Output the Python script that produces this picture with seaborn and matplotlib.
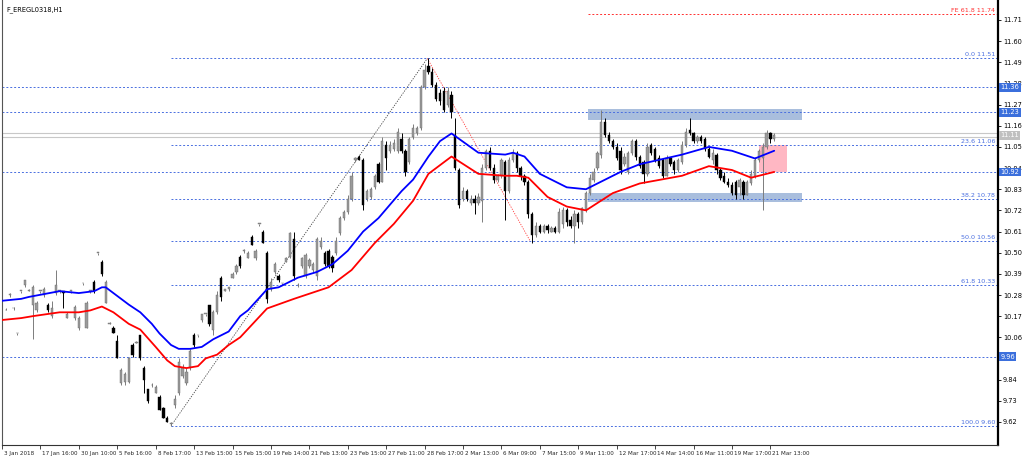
import numpy as np
import pandas as pd
import matplotlib
matplotlib.use("Agg")
import matplotlib.pyplot as plt
import matplotlib.transforms as mtransforms
from matplotlib.patches import Rectangle
import seaborn as sns

TITLE = "F_EREGL0318,H1"

bar_index = list(range(1, 202))

opens = [
    10.20, 10.28, 10.21, 10.08, 10.30, 10.33, 10.30, 10.23, 10.20, 10.30,
    10.28, 10.23, 10.17, 10.29, 10.30, 10.30, 10.16, 10.30, 10.16, 10.11,
    10.34, 10.11, 10.30, 10.35, 10.50, 10.45, 10.24, 10.13, 10.11, 10.04,
    9.82, 9.83, 9.83, 10.02, 10.03, 10.07, 9.90, 9.79, 9.81, 9.77,
    9.75, 9.69, 9.64, 9.61, 9.71, 9.77, 9.86, 9.82, 9.90, 10.07,
    10.07, 10.15, 10.18, 10.23, 10.10, 10.19, 10.37, 10.30, 10.31, 10.37,
    10.40, 10.48, 10.51, 10.47, 10.58, 10.47, 10.65, 10.61, 10.50, 10.31,
    10.40, 10.38, 10.34, 10.45, 10.48, 10.57, 10.33, 10.43, 10.38, 10.43,
    10.41, 10.38, 10.53, 10.50, 10.51, 10.48, 10.50, 10.60, 10.68, 10.71,
    10.78, 10.98, 11.00, 10.98, 10.78, 10.79, 10.84, 10.96, 10.87, 11.06,
    11.03, 11.04, 11.03, 11.09, 11.03, 10.97, 11.10, 11.12, 11.15, 11.36,
    11.47, 11.44, 11.37, 11.33, 11.34, 11.27, 11.32, 11.11, 10.93, 10.78,
    10.82, 10.76, 10.78, 10.76, 10.77, 10.94, 11.03, 10.94, 10.88, 10.90,
    10.97, 10.82, 10.98, 11.02, 10.94, 10.90, 10.87, 10.70, 10.59, 10.64,
    10.61, 10.64, 10.61, 10.63, 10.61, 10.65, 10.72, 10.67, 10.64, 10.70,
    10.66, 10.72, 10.81, 10.88, 10.94, 11.01, 11.18, 11.11, 11.08, 11.05,
    11.03, 10.96, 10.92, 11.02, 11.08, 11.00, 10.97, 10.91, 11.06, 11.04,
    10.99, 10.98, 10.90, 10.99, 10.97, 10.93, 10.97, 11.06, 11.14, 11.12,
    11.08, 11.10, 11.09, 11.04, 10.98, 11.01, 10.93, 10.90, 10.87, 10.85,
    10.87, 10.84, 10.87, 10.80, 10.86, 10.90, 10.98, 10.99, 11.05, 11.12,
    11.09,
]
highs = [
    10.21, 10.29, 10.22, 10.08, 10.30, 10.36, 10.31, 10.33, 10.25, 10.30,
    10.32, 10.24, 10.25, 10.41, 10.30, 10.30, 10.19, 10.30, 10.23, 10.17,
    10.34, 10.25, 10.30, 10.36, 10.50, 10.46, 10.36, 10.14, 10.12, 10.07,
    9.90, 9.88, 9.96, 10.03, 10.04, 10.07, 9.91, 9.79, 9.82, 9.81,
    9.76, 9.70, 9.65, 9.62, 9.76, 9.95, 9.92, 9.90, 10.00, 10.08,
    10.07, 10.18, 10.18, 10.23, 10.20, 10.30, 10.38, 10.31, 10.32, 10.40,
    10.44, 10.49, 10.52, 10.51, 10.59, 10.52, 10.65, 10.62, 10.51, 10.37,
    10.45, 10.39, 10.34, 10.48, 10.61, 10.61, 10.34, 10.48, 10.50, 10.47,
    10.45, 10.58, 10.58, 10.51, 10.52, 10.49, 10.58, 10.69, 10.72, 10.80,
    10.92, 11.00, 11.01, 10.99, 10.83, 10.84, 10.91, 10.97, 11.10, 11.08,
    11.08, 11.09, 11.15, 11.12, 11.04, 11.10, 11.17, 11.16, 11.37, 11.48,
    11.51, 11.46, 11.39, 11.35, 11.36, 11.36, 11.34, 11.20, 10.94, 10.84,
    10.83, 10.80, 10.80, 10.81, 10.96, 11.04, 11.05, 10.96, 10.91, 10.99,
    10.98, 11.00, 11.04, 11.03, 10.95, 10.91, 10.88, 10.71, 10.66, 10.65,
    10.65, 10.65, 10.64, 10.64, 10.73, 10.74, 10.73, 10.69, 10.72, 10.71,
    10.74, 10.82, 10.91, 10.94, 11.03, 11.24, 11.20, 11.13, 11.09, 11.07,
    11.05, 11.02, 11.03, 11.09, 11.09, 11.01, 10.98, 11.07, 11.07, 11.05,
    11.01, 10.99, 11.01, 11.00, 10.98, 10.99, 11.08, 11.15, 11.20, 11.13,
    11.11, 11.11, 11.10, 11.05, 11.04, 11.02, 10.94, 10.92, 10.89, 10.87,
    10.88, 10.89, 10.88, 10.88, 10.93, 11.00, 11.04, 11.07, 11.14, 11.13,
    11.12,
]
lows = [
    10.20, 10.27, 10.20, 10.07, 10.29, 10.32, 10.30, 10.05, 10.19, 10.29,
    10.27, 10.19, 10.16, 10.28, 10.29, 10.21, 10.16, 10.29, 10.15, 10.10,
    10.33, 10.11, 10.29, 10.29, 10.49, 10.38, 10.24, 10.13, 10.08, 9.95,
    9.81, 9.81, 9.82, 9.96, 10.03, 9.94, 9.77, 9.72, 9.80, 9.77,
    9.68, 9.64, 9.62, 9.60, 9.69, 9.76, 9.85, 9.81, 9.89, 10.01,
    10.06, 10.14, 10.17, 10.12, 10.07, 10.18, 10.25, 10.30, 10.30, 10.37,
    10.39, 10.42, 10.50, 10.47, 10.54, 10.46, 10.64, 10.55, 10.24, 10.30,
    10.39, 10.35, 10.33, 10.45, 10.47, 10.36, 10.32, 10.42, 10.37, 10.42,
    10.40, 10.36, 10.52, 10.43, 10.42, 10.40, 10.49, 10.59, 10.67, 10.70,
    10.77, 10.97, 10.98, 10.72, 10.77, 10.78, 10.83, 10.86, 10.87, 10.93,
    11.02, 11.03, 11.02, 11.02, 10.90, 10.96, 11.09, 11.11, 11.14, 11.35,
    11.43, 11.36, 11.29, 11.27, 11.23, 11.26, 11.20, 10.93, 10.73, 10.77,
    10.77, 10.75, 10.70, 10.75, 10.66, 10.93, 10.93, 10.86, 10.87, 10.89,
    10.67, 10.81, 10.97, 10.92, 10.88, 10.85, 10.68, 10.55, 10.58, 10.60,
    10.60, 10.60, 10.61, 10.60, 10.60, 10.63, 10.64, 10.63, 10.55, 10.63,
    10.65, 10.71, 10.80, 10.87, 10.93, 10.99, 11.10, 11.07, 11.04, 10.98,
    10.91, 10.95, 10.91, 11.01, 10.98, 10.94, 10.86, 10.90, 11.01, 10.97,
    10.94, 10.89, 10.90, 10.95, 10.91, 10.92, 10.96, 11.05, 11.11, 11.07,
    11.07, 11.07, 11.03, 10.99, 10.96, 10.91, 10.88, 10.86, 10.84, 10.80,
    10.78, 10.80, 10.78, 10.80, 10.85, 10.89, 10.97, 10.72, 11.04, 11.07,
    11.08,
]
closes = [
    10.20, 10.28, 10.21, 10.08, 10.30, 10.36, 10.30, 10.32, 10.24, 10.30,
    10.31, 10.20, 10.21, 10.33, 10.30, 10.29, 10.18, 10.30, 10.22, 10.16,
    10.34, 10.24, 10.30, 10.30, 10.50, 10.39, 10.35, 10.13, 10.08, 9.95,
    9.89, 9.87, 9.95, 9.97, 10.03, 9.95, 9.84, 9.73, 9.81, 9.80,
    9.68, 9.64, 9.62, 9.61, 9.74, 9.93, 9.90, 9.88, 9.99, 10.02,
    10.07, 10.18, 10.18, 10.13, 10.19, 10.28, 10.27, 10.31, 10.32, 10.39,
    10.43, 10.43, 10.51, 10.50, 10.54, 10.51, 10.65, 10.55, 10.26, 10.35,
    10.44, 10.36, 10.34, 10.47, 10.60, 10.38, 10.33, 10.47, 10.49, 10.46,
    10.44, 10.57, 10.56, 10.44, 10.43, 10.42, 10.56, 10.68, 10.71, 10.78,
    10.90, 10.99, 10.98, 10.75, 10.82, 10.83, 10.90, 10.87, 11.08, 10.99,
    11.06, 11.07, 11.13, 11.03, 10.92, 11.09, 11.15, 11.15, 11.36, 11.45,
    11.44, 11.37, 11.30, 11.29, 11.24, 11.34, 11.23, 10.94, 10.75, 10.82,
    10.78, 10.78, 10.76, 10.79, 10.94, 11.03, 10.94, 10.88, 10.90, 10.98,
    10.82, 10.98, 11.02, 10.94, 10.90, 10.87, 10.70, 10.59, 10.64, 10.61,
    10.64, 10.62, 10.63, 10.61, 10.71, 10.72, 10.66, 10.64, 10.70, 10.66,
    10.73, 10.81, 10.89, 10.92, 11.02, 11.18, 11.11, 11.08, 11.05, 10.99,
    10.93, 11.00, 11.02, 11.08, 11.00, 10.95, 10.91, 11.05, 11.02, 10.98,
    10.95, 10.90, 10.99, 10.96, 10.93, 10.98, 11.06, 11.13, 11.12, 11.08,
    11.10, 11.08, 11.04, 11.00, 11.02, 10.93, 10.89, 10.87, 10.85, 10.81,
    10.80, 10.88, 10.80, 10.87, 10.91, 10.98, 11.03, 11.05, 11.12, 11.09,
    11.11,
]

# moving averages (blue = fast, red = slow), read at bar positions
ma_fast_idx = [0, 5, 7, 15, 20, 24, 26, 27, 29, 33, 36, 39, 41, 44, 46, 49, 52, 55, 59, 62,
               64, 69, 72, 77, 82, 86, 90, 94, 98, 104, 107, 111, 114, 117, 124, 131, 133, 136, 140, 147,
               152, 156, 161, 166, 177, 184, 190, 196, 201]
ma_fast = [10.25, 10.26, 10.27, 10.30, 10.29, 10.30, 10.32, 10.32, 10.29, 10.23,
           10.19, 10.13, 10.08, 10.02, 10.00, 10.00, 10.01, 10.05, 10.09, 10.17,
           10.20, 10.31, 10.32, 10.37, 10.40, 10.44, 10.51, 10.61, 10.68, 10.82,
           10.88, 11.00, 11.08, 11.12, 11.02, 11.01, 11.02, 11.00, 10.91, 10.84,
           10.83, 10.87, 10.92, 10.96, 11.01, 11.05, 11.03, 10.99, 11.03]
ma_slow_idx = [0, 5, 8, 15, 20, 23, 26, 29, 33, 36, 40, 43, 45, 48, 51, 53, 56, 59, 62, 69,
               76, 85, 91, 97, 102, 107, 111, 117, 124, 131, 134, 137, 142, 147, 152, 159, 166, 177, 184, 190,
               195, 201]
ma_slow = [10.15, 10.16, 10.17, 10.19, 10.19, 10.20, 10.22, 10.19, 10.13, 10.10,
           10.01, 9.94, 9.91, 9.90, 9.91, 9.95, 9.97, 10.02, 10.06, 10.21,
           10.26, 10.32, 10.41, 10.55, 10.65, 10.77, 10.91, 11.00, 10.91, 10.90,
           10.90, 10.89, 10.79, 10.74, 10.72, 10.81, 10.86, 10.90, 10.95, 10.93,
           10.89, 10.92]

xtick_pos = list(range(0, 201, 10))
xtick_labels = ["3 Jan 2018", "17 Jan 16:00", "30 Jan 10:00", "5 Feb 16:00", "8 Feb 17:00",
                "13 Feb 15:00", "15 Feb 15:00", "19 Feb 14:00", "21 Feb 13:00", "23 Feb 15:00",
                "27 Feb 11:00", "28 Feb 17:00", "2 Mar 13:00", "6 Mar 09:00", "7 Mar 15:00",
                "9 Mar 11:00", "12 Mar 17:00", "14 Mar 14:00", "16 Mar 11:00", "19 Mar 17:00",
                "21 Mar 13:00"]
ytick_vals = [11.71, 11.60, 11.49, 11.38, 11.27, 11.16, 11.05, 10.94, 10.83, 10.72,
              10.61, 10.50, 10.39, 10.28, 10.17, 10.06, 9.95, 9.84, 9.73, 9.62]
ytick_hidden = [9.95]  # fully covered by the 9.96 line box in the reference

fib_levels = [11.51, 11.06, 10.78, 10.56, 10.33, 9.60]
fib_labels = ["0.0 11.51", "23.6 11.06", "38.2 10.78", "50.0 10.56", "61.8 10.33", "100.0 9.60"]
fib_start = 44
fe_level = 11.74
fe_label = "FE 61.8 11.74"
fe_start = 152.6
hlines = [11.36, 11.23, 10.92, 9.96]
hline_labels = ["11.36", "11.23", "10.92", "9.96"]
bid_ask = [11.12, 11.10]
last_price = 11.11
last_label = "11.11"
zig_x = [44, 110.7, 137.5]
zig_y = [9.60, 11.51, 10.56]
resist_zone = (152.6, 208.2, 11.19, 11.245)
support_zone = (152.6, 208.2, 10.765, 10.81)
pink_zone = (197.1, 204.4, 10.92, 11.06)

# ---------------------------------------------------------------------------
sns.set_style("white")
plt.rcParams["font.family"] = ["DejaVu Sans"]

fig = plt.figure(figsize=(10.24, 4.58), dpi=100)
ax = fig.add_axes([2 / 1024, 13 / 458, 996 / 1024, 445 / 458])
ax.set_facecolor("white")
ax.set_xlim(0.08, 259.25)
ax.set_ylim(9.50, 11.814)

FIB_C = "#4a6fe0"
full = mtransforms.blended_transform_factory(ax.transAxes, ax.transData)

# zones (background)
for (x0, x1, y0, y1), fc in [(resist_zone, "#a9bedd"), (support_zone, "#a9bedd"), (pink_zone, "#ffb7c3")]:
    ax.add_patch(Rectangle((x0, y0), x1 - x0, y1 - y0, facecolor=fc, edgecolor="none", zorder=1))

# horizontal lines
for lv in hlines:
    ax.axhline(lv, color=FIB_C, lw=0.7, ls=(0, (2, 2)), zorder=2)
for lv in bid_ask:
    ax.axhline(lv, color="#c8c8c8", lw=0.8, zorder=2)
for lv in fib_levels:
    ax.hlines(lv, fib_start, 259.25, color=FIB_C, lw=0.7, ls=(0, (2, 2)), zorder=2)
ax.hlines(fe_level, fe_start, 259.25, color="#ff3030", lw=0.7, ls=(0, (2, 2)), zorder=2)

# zigzag
ax.plot(zig_x[:2], zig_y[:2], color="#444444", lw=0.6, ls=(0, (1.5, 1.5)), zorder=2)
ax.plot(zig_x[1:], zig_y[1:], color="#ff4040", lw=0.6, ls=(0, (1.5, 1.5)), zorder=2)

# candles
df = pd.DataFrame({"i": bar_index, "o": opens, "h": highs, "l": lows, "c": closes})
for r in df.itertuples():
    bull = r.c >= r.o
    wc = "#7c7c7c" if bull else "#000000"
    ax.vlines(r.i, r.l, r.h, color=wc, lw=0.7, zorder=3)
    hgt = max(abs(r.c - r.o), 0.004)
    ax.bar(r.i, hgt, bottom=min(r.o, r.c), width=0.6,
           color="#9a9a9a" if bull else "#000000",
           edgecolor="#6a6a6a" if bull else "#000000", linewidth=0.3, zorder=4)

# moving averages
sns.lineplot(x=ma_fast_idx, y=ma_fast, color="#0000ff", lw=1.3, ax=ax, zorder=5)
sns.lineplot(x=ma_slow_idx, y=ma_slow, color="#ff0000", lw=1.3, ax=ax, zorder=5)

# fib labels
for lv, lab in zip(fib_levels, fib_labels):
    ax.text(0.997, lv + 0.006, lab, transform=full, ha="right", va="bottom",
            fontsize=4.6, color=FIB_C, zorder=6)
ax.text(0.997, fe_level + 0.006, fe_label, transform=full, ha="right", va="bottom",
        fontsize=4.6, color="#ff3030", zorder=6)

# title
ax.text(0.004, 0.985, TITLE, transform=ax.transAxes, ha="left", va="top", fontsize=4.8, color="black")

# axes styling
ax.yaxis.tick_right()
ax.set_yticks(ytick_vals)
ax.set_yticklabels(["" if v in ytick_hidden else f"{v:.2f}" for v in ytick_vals])
ax.tick_params(axis="y", direction="out", length=2, width=0.6, pad=1.5, labelsize=4.8,
               right=True, left=False, colors="black")
ax.set_xticks(xtick_pos)
ax.set_xticklabels(xtick_labels, ha="left")
ax.tick_params(axis="x", direction="out", length=3, width=0.6, pad=1, labelsize=4.1, bottom=True)
ax.set_xlabel("")
ax.set_ylabel("")
for lab in ax.get_xticklabels():
    lab.set_transform(lab.get_transform() + mtransforms.ScaledTranslation(2 / 100, 0, fig.dpi_scale_trans))

ax.spines["top"].set_visible(False)
ax.spines["left"].set_color("#555555")
ax.spines["left"].set_linewidth(0.8)
ax.spines["bottom"].set_color("#333333")
ax.spines["bottom"].set_linewidth(0.8)
ax.spines["right"].set_color("black")
ax.spines["right"].set_linewidth(1.6)
ax.grid(False)

# price boxes on the axis
for lv, lab in zip(hlines, hline_labels):
    ax.text(1.0025, lv, lab, transform=full, ha="left", va="center", fontsize=4.8, color="white",
            clip_on=False, zorder=10,
            bbox=dict(boxstyle="square,pad=0.2", facecolor="#3b6fdc", edgecolor="none"))
ax.text(1.0025, last_price, last_label, transform=full, ha="left", va="center", fontsize=4.8,
        color="white", clip_on=False, zorder=10,
        bbox=dict(boxstyle="square,pad=0.2", facecolor="#c0c0c0", edgecolor="none"))

fig.savefig("out.png", dpi=100, facecolor="white")
